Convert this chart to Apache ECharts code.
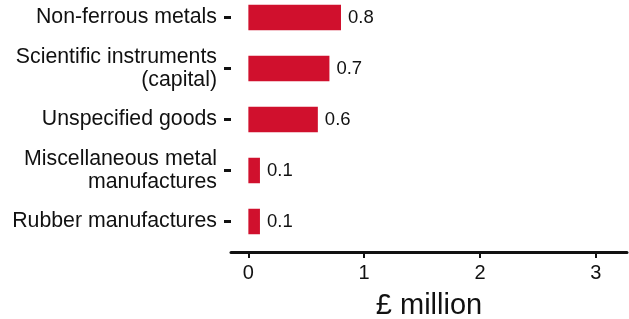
<!DOCTYPE html>
<html>
<head>
<meta charset="utf-8">
<script src="https://cdn.jsdelivr.net/npm/echarts@6/dist/echarts.min.js"></script>
<style>
  html, body { margin: 0; padding: 0; background: #fff; }
  #chart { width: 629px; height: 319px; }
</style>
</head>
<body>
<div id="chart"></div>
<script>
// 类别与数值
const categories = [
  'Non-ferrous metals',
  'Scientific instruments\n(capital)',
  'Unspecified goods',
  'Miscellaneous metal\nmanufactures',
  'Rubber manufactures'
]
const values = [0.8, 0.7, 0.6, 0.1, 0.1]
const xTicks = [0, 1, 2, 3]

const chart = echarts.init(document.getElementById('chart'))

const option = {
  animation: false,
  textStyle: { fontFamily: 'Liberation Sans, Arial, sans-serif' },
  grid: {
    left: 231,
    right: 2,
    top: -8,
    bottom: 72,
    containLabel: false,
    outerBoundsMode: 'none'
  },
  xAxis: {
    type: 'value',
    min: -0.15,
    max: 3.27,
    offset: 5,
    name: '£ million',
    nameLocation: 'middle',
    nameGap: 39,
    nameTextStyle: { fontSize: 29, color: '#111' },
    splitLine: { show: false },
    axisLine: { show: true, lineStyle: { color: '#111', width: 3 } },
    axisTick: {
      show: true,
      length: 6,
      customValues: xTicks,
      lineStyle: { color: '#111', width: 2 }
    },
    axisLabel: {
      customValues: xTicks,
      fontSize: 20,
      color: '#111',
      margin: 11
    }
  },
  yAxis: {
    type: 'category',
    inverse: true,
    data: categories,
    axisLine: { show: false, onZero: false },
    axisTick: {
      show: true,
      alignWithLabel: true,
      length: 7,
      lineStyle: { color: '#111', width: 3 }
    },
    axisLabel: {
      fontSize: 21.3,
      lineHeight: 23,
      color: '#111',
      margin: 14,
      align: 'right'
    }
  },
  series: [{
    type: 'bar',
    data: values,
    barCategoryGap: '50%',
    itemStyle: { color: '#d0102d' },
    label: {
      show: true,
      position: 'right',
      distance: 7,
      fontSize: 18.5,
      color: '#111'
    }
  }]
}

chart.setOption(option)
</script>
</body>
</html>
